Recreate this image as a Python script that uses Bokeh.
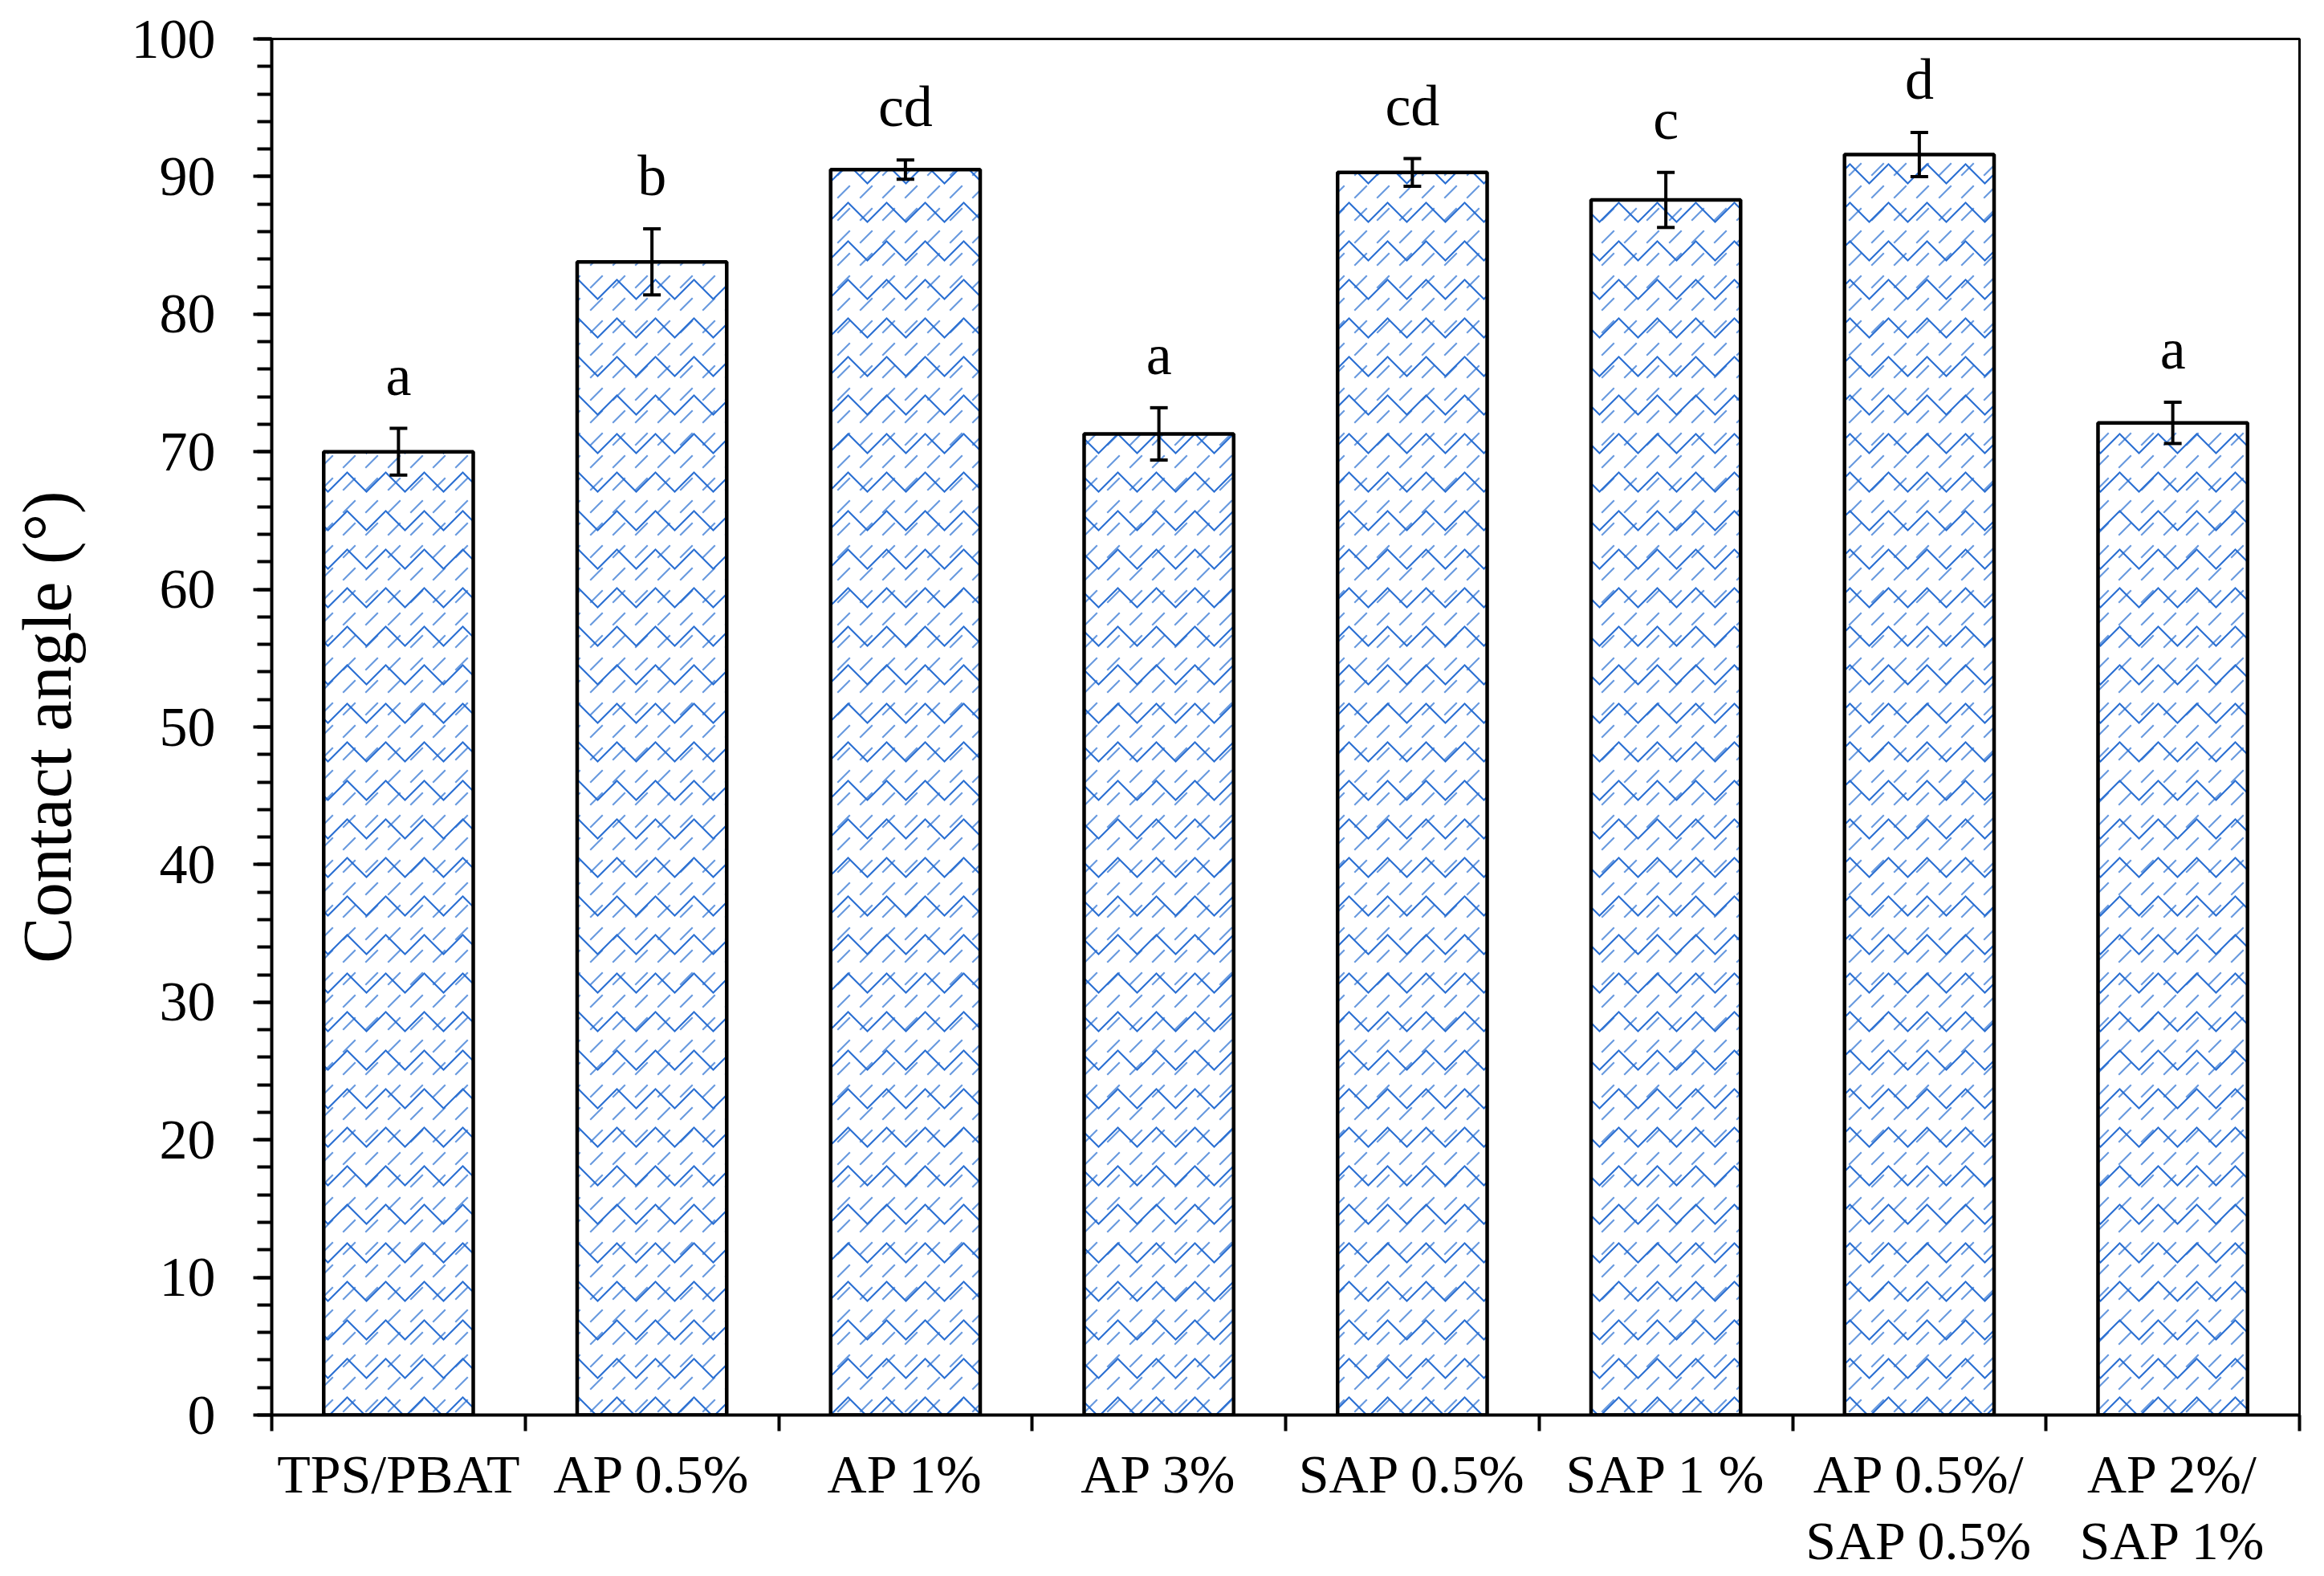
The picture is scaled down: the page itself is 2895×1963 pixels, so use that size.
from bokeh.plotting import figure
from bokeh.models import FixedTicker, ColumnDataSource, Whisker, TeeHead, Range1d
from bokeh.embed import file_html
from bokeh.resources import INLINE
from bokeh.core.properties import value

# ---- data ----
categories = ["TPS/PBAT", "AP 0.5%", "AP 1%", "AP 3%", "SAP 0.5%", "SAP 1 %",
              "AP 0.5%/\nSAP 0.5%", "AP 2%/\nSAP 1%"]
means = [70.0, 83.8, 90.5, 71.3, 90.3, 88.3, 91.6, 72.1]
sds = [1.7, 2.4, 0.7, 1.9, 1.0, 2.0, 1.6, 1.5]
letters = ["a", "b", "cd", "a", "cd", "c", "d", "a"]
y_ticks = [0, 10, 20, 30, 40, 50, 60, 70, 80, 90, 100]
y_minor = [v for v in range(0, 101, 2)]

n = len(categories)
xpos = [i + 0.5 for i in range(n)]
src = ColumnDataSource(dict(
    x=xpos, mean=means,
    upper=[m + s for m, s in zip(means, sds)],
    lower=[m - s for m, s in zip(means, sds)],
    letter=letters,
))

FONT = "Liberation Serif"
BLUE = "#2a6fd2"

p = figure(width=2880, height=1960, output_backend="svg", toolbar_location=None,
           x_range=Range1d(0, n), y_range=Range1d(0, 100),
           min_border_left=338, min_border_right=16, min_border_top=48,
           min_border_bottom=197)
p.background_fill_color = "white"
p.border_fill_color = "white"
p.outline_line_color = "black"
p.outline_line_width = 3
p.grid.visible = False

# bars: white fill with blue wave hatch
p.vbar(x="x", top="mean", width=0.59, bottom=0, source=src,
       fill_color="white", line_color=None,
       hatch_pattern="horizontal_wave", hatch_color=BLUE,
       hatch_scale=48, hatch_weight=2.2)
p.vbar(x="x", top="mean", width=0.59, bottom=0, source=src,
       fill_alpha=0, line_color=None,
       hatch_pattern="right_diagonal_dash", hatch_color=BLUE,
       hatch_scale=28, hatch_weight=2.2, hatch_alpha=0.7)
p.vbar(x="x", top="mean", width=0.59, bottom=0, source=src,
       fill_alpha=0, line_color="black", line_width=4.5)

# error bars
w = Whisker(base="x", upper="upper", lower="lower", source=src,
            level="overlay",
            line_color="black", line_width=4,
            upper_head=TeeHead(size=22, line_width=4, line_color="black"),
            lower_head=TeeHead(size=22, line_width=4, line_color="black"))
p.add_layout(w)

# significance letters
p.text(x="x", y="upper", text="letter", source=src,
       text_font=value(FONT), text_font_size="72px", text_color="black",
       text_align="center", text_baseline="alphabetic", y_offset=-66)

# y axis
ya = p.yaxis[0]
ya.ticker = FixedTicker(ticks=y_ticks, minor_ticks=y_minor)
ya.axis_line_width = 4
ya.major_tick_line_width = 4
ya.minor_tick_line_width = 4
ya.major_tick_out = 23
ya.major_tick_in = 0
ya.minor_tick_out = 18
ya.minor_tick_in = 0
ya.major_label_text_font = FONT
ya.major_label_text_font_size = "70px"
ya.major_label_text_color = "black"
ya.major_label_standoff = 47
ya.axis_label = "Contact angle (°)"
ya.axis_label_text_font = FONT
ya.axis_label_text_font_size = "86px"
ya.axis_label_text_font_style = "normal"
ya.axis_label_text_color = "black"
ya.axis_label_standoff = 54

# x axis: labels at bar centres, tick marks at category boundaries
xa = p.xaxis[0]
xa.ticker = FixedTicker(ticks=xpos, minor_ticks=list(range(n + 1)))
xa.major_label_overrides = {xv: lab for xv, lab in zip(xpos, categories)}
xa.axis_line_width = 4
xa.major_tick_out = 0
xa.major_tick_in = 0
xa.major_tick_line_color = None
xa.minor_tick_out = 20
xa.minor_tick_in = 0
xa.minor_tick_line_width = 4
xa.major_label_text_font = FONT
xa.major_label_text_font_size = "68px"
xa.major_label_text_line_height = 1.1
xa.major_label_text_color = "black"
xa.major_label_standoff = 15

open("out.html", "w").write(file_html(p, INLINE))
